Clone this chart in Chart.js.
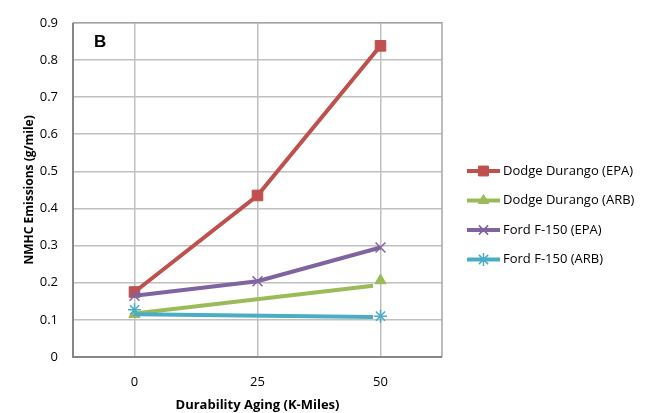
<!DOCTYPE html>
<html>
<head>
<meta charset="utf-8">
<script src="https://cdn.jsdelivr.net/npm/chart.js@4.4.1/dist/chart.umd.min.js"></script>
<style>
    html, body { margin: 0; padding: 0; background: #fff; }
    #wrap { width: 660px; height: 413px; }
</style>
</head>
<body>
<div id="wrap"><canvas id="chart" width="660" height="413"></canvas></div>
<script>
// ─── Data ─────────────────────────────────────────────────────────────────────
const miles = [0, 25, 50];
const xTicks = [0, 25, 50];
const yTicks = [0, 0.1, 0.2, 0.3, 0.4, 0.5, 0.6, 0.7, 0.8, 0.9];

const durangoEpa = [0.175, 0.435, 0.838];
const durangoArb = [0.115, null, 0.206];
const fordEpa = [0.165, 0.204, 0.295];
const fordArb = [0.127, null, 0.11];

// ARB lines were drawn on their own and stop short of the 50K marker
const arbLineMiles = [0, 48.5];
const durangoArbLine = [0.117, 0.192];
const fordArbLine = [0.115, 0.108];

const seriesNames = ['Dodge Durango (EPA)', 'Dodge Durango (ARB)', 'Ford F-150 (EPA)', 'Ford F-150 (ARB)'];

const RED = '#C0504D', GREEN = '#9BBB59', PURPLE = '#8064A2', CYAN = '#4BACC6';
const FONT = '"Open Sans", "Liberation Sans", sans-serif';

const pts = (xs, ys) => xs.map((x, i) => ({ x: x, y: ys[i] })).filter(p => p.y !== null);

// legend entries (line + marker, like Excel)
const legendItems = [
    { label: seriesNames[0], color: RED, style: 'rect', radius: 7, width: 1 },
    { label: seriesNames[1], color: GREEN, style: 'triangle', radius: 6, width: 1 },
    { label: seriesNames[2], color: PURPLE, style: 'crossRot', radius: 6.5, width: 1.5 },
    { label: seriesNames[3], color: CYAN, style: 'star', radius: 6.5, width: 1.5 }
];

// ─── Plugins ──────────────────────────────────────────────────────────────────
const frame = {
    id: 'frame',
    beforeDatasetsDraw(chart) {
        const { ctx, chartArea: a } = chart;
        ctx.save();
        ctx.lineWidth = 1.5;
        ctx.strokeStyle = '#A6A6A6';
        ctx.beginPath();
        ctx.moveTo(a.left, a.top); ctx.lineTo(a.right, a.top); ctx.lineTo(a.right, a.bottom);
        ctx.stroke();
        ctx.lineWidth = 2;
        ctx.strokeStyle = '#868686';
        ctx.beginPath();
        ctx.moveTo(a.left, a.top); ctx.lineTo(a.left, a.bottom); ctx.lineTo(a.right, a.bottom);
        ctx.stroke();
        ctx.restore();
    },
    afterDraw(chart) {
        const ctx = chart.ctx;
        ctx.save();
        // panel letter
        ctx.fillStyle = '#000';
        ctx.font = 'bold 17px "Liberation Sans", Arial, sans-serif';
        ctx.textBaseline = 'middle';
        ctx.textAlign = 'left';
        ctx.fillText('B', 94, 42);

        // legend
        const lx = 467, ly = 171, gap = 29.5;
        ctx.font = '13px ' + FONT;
        legendItems.forEach((it, i) => {
            const y = ly + i * gap;
            ctx.strokeStyle = it.color;
            ctx.lineWidth = 4;
            ctx.beginPath();
            ctx.moveTo(lx, y); ctx.lineTo(lx + 33, y);
            ctx.stroke();
            ctx.fillStyle = it.color;
            ctx.lineWidth = it.width;
            Chart.helpers.drawPoint(ctx, {
                pointStyle: it.style, radius: it.radius, borderWidth: it.width, rotation: 0
            }, lx + 16.5, y);
            ctx.fillStyle = '#000';
            ctx.fillText(it.label, lx + 36, y);
        });
        ctx.restore();
    }
};

// ─── Chart ────────────────────────────────────────────────────────────────────
const lineSet = (data, color, order) => ({
    data: data, borderColor: color, backgroundColor: color, borderWidth: 4,
    pointRadius: 0, showLine: true, tension: 0, order: order
});
const markSet = (data, color, style, radius, bw, order) => ({
    data: data, borderColor: color, backgroundColor: color, showLine: false,
    pointStyle: style, pointRadius: radius, pointBorderWidth: bw, order: order
});

new Chart(document.getElementById('chart').getContext('2d'), {
    type: 'scatter',
    data: {
        datasets: [
            lineSet(pts(miles, durangoEpa), RED, 8),
            markSet(pts(miles, durangoEpa), RED, 'rect', 7.5, 1, 7),
            lineSet(pts(arbLineMiles, durangoArbLine), GREEN, 6),
            markSet(pts(miles, durangoArb), GREEN, 'triangle', 6.5, 1, 5),
            lineSet(pts(miles, fordEpa), PURPLE, 4),
            markSet(pts(miles, fordEpa), PURPLE, 'crossRot', 7, 1.5, 3),
            lineSet(pts(arbLineMiles, fordArbLine), CYAN, 2),
            markSet(pts(miles, fordArb), CYAN, 'star', 6.5, 1.5, 1)
        ]
    },
    options: {
        responsive: false,
        animation: false,
        layout: { padding: { left: 0, top: 14, right: 218, bottom: 0 } },
        plugins: { legend: { display: false }, tooltip: { enabled: false } },
        scales: {
            x: {
                type: 'linear', min: -12.5, max: 62.5,
                afterBuildTicks: s => { s.ticks = xTicks.map(v => ({ value: v })); },
                afterFit: s => { s.height = 56; },
                grid: { color: '#C0C0C0', lineWidth: 1.5, drawTicks: false },
                border: { display: false },
                ticks: { color: '#000', padding: 17, font: { family: FONT, size: 13 } },
                title: {
                    display: true, text: 'Durability Aging (K-Miles)', color: '#000',
                    font: { family: FONT, size: 13, weight: 'bold' }, padding: { top: 1, bottom: 0 }
                }
            },
            y: {
                min: 0, max: 0.9,
                afterBuildTicks: s => { s.ticks = yTicks.map(v => ({ value: v })); },
                afterFit: s => { s.width = 73; },
                grid: { color: '#C0C0C0', lineWidth: 1.5, drawTicks: false },
                border: { display: false },
                ticks: { color: '#000', padding: 15, font: { family: FONT, size: 13 } },
                title: {
                    display: true, text: 'NMHC Emissions (g/mile)', color: '#000',
                    font: { family: FONT, size: 12, weight: 'bold' }, padding: { top: 22, bottom: 0 }
                }
            }
        }
    },
    plugins: [frame]
});
</script>
</body>
</html>
